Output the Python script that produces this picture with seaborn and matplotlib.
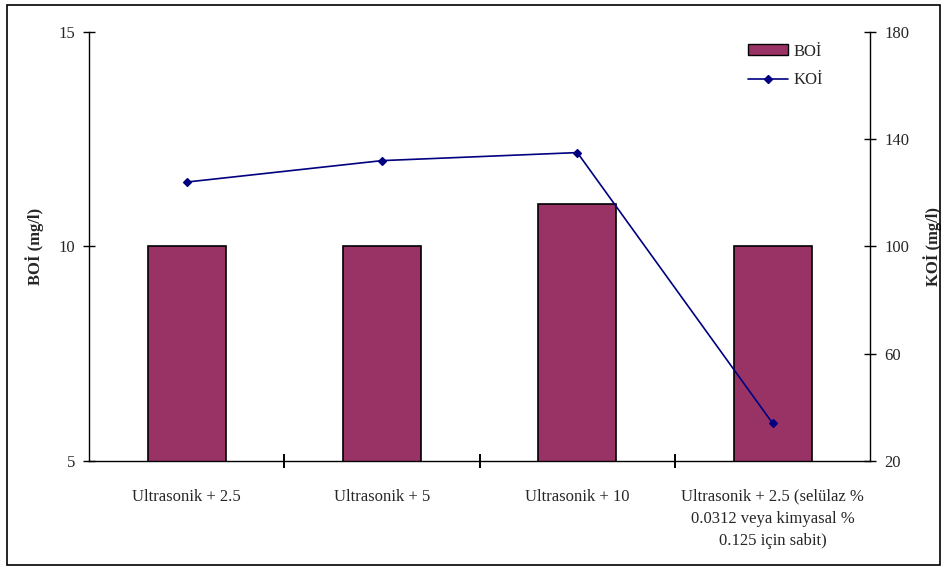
import matplotlib
matplotlib.use("Agg")
import matplotlib.pyplot as plt
import seaborn as sns
import pandas as pd
from matplotlib.patches import Rectangle, Patch
from matplotlib.lines import Line2D

categories = [
    "Ultrasonik + 2.5",
    "Ultrasonik + 5",
    "Ultrasonik + 10",
    "Ultrasonik + 2.5 (selülaz %\n0.0312 veya kimyasal %\n0.125 için sabit)",
]
boi_values = [10, 10, 11, 10]
koi_values = [124, 132, 135, 34]
boi_ticks = [5, 10, 15]
koi_ticks = [20, 60, 100, 140, 180]

df = pd.DataFrame({"cat": categories, "BOI": boi_values, "KOI": koi_values})

sns.set_theme(style="white")
plt.rcParams["font.family"] = ["Liberation Serif", "DejaVu Serif"]

fig = plt.figure(figsize=(9.47, 5.71), dpi=100)
ax = fig.add_axes([0.094, 0.193, 0.825, 0.751])

bar_color = "#993366"
line_color = "#000080"

sns.barplot(data=df, x="cat", y="BOI", order=categories, color=bar_color,
            width=0.4, edgecolor="black", linewidth=1.2, saturation=1, ax=ax)
ax.set_ylim(5, 15)
ax.set_yticks(boi_ticks)
ax.set_xlim(-0.5, 3.5)

ax2 = ax.twinx()
sns.pointplot(data=df, x="cat", y="KOI", order=categories, color=line_color,
              markers="D", markersize=4, linewidth=1.2, ax=ax2)
ax2.set_ylim(20, 180)
ax2.set_yticks(koi_ticks)
ax2.set_xlim(-0.5, 3.5)

for a in (ax, ax2):
    a.spines["top"].set_visible(False)
    for s in a.spines.values():
        s.set_color("black")
        s.set_linewidth(1.0)
ax.spines["right"].set_visible(False)
ax2.spines["left"].set_visible(False)
ax2.spines["bottom"].set_visible(False)

ax.set_xlabel("")
ax.set_ylabel("BOİ (mg/l)", fontsize=12, fontweight="bold", labelpad=10)
ax2.set_ylabel("KOİ (mg/l)", fontsize=12, fontweight="bold", labelpad=10)

ax.set_xticks(range(len(categories)))
ax.set_xticklabels(categories, fontsize=12, linespacing=1.5)
ax.tick_params(axis="x", which="major", length=0, pad=20)
ax.set_xticks([0.5, 1.5, 2.5], minor=True)
ax.tick_params(axis="x", which="minor", direction="inout", length=10, width=1.4, color="black", bottom=True)
ax.tick_params(axis="y", direction="inout", length=8, width=1.0, color="black", left=True, labelsize=12, pad=6)
ax2.tick_params(axis="y", direction="inout", length=8, width=1.0, color="black", right=True, labelsize=12, pad=6)
for lab in ax.get_xticklabels():
    lab.set_verticalalignment("top")
    lab.set_horizontalalignment("center")

handles = [Patch(facecolor=bar_color, edgecolor="black", label="BOİ"),
           Line2D([0], [0], color=line_color, marker="D", markersize=4, lw=1.2, label="KOİ")]
ax2.legend(handles=handles, loc="upper left", bbox_to_anchor=(0.778, 0.944),
           bbox_transform=fig.transFigure, frameon=False, fontsize=12,
           handlelength=2.4, handleheight=0.6, handletextpad=0.3, labelspacing=0.75,
           borderpad=0.2)

fig.patches.append(Rectangle((0.0074, 0.0105), 0.985, 0.981, transform=fig.transFigure,
                             fill=False, edgecolor="black", linewidth=1.2))

fig.savefig("out.png", dpi=100, facecolor="white")
